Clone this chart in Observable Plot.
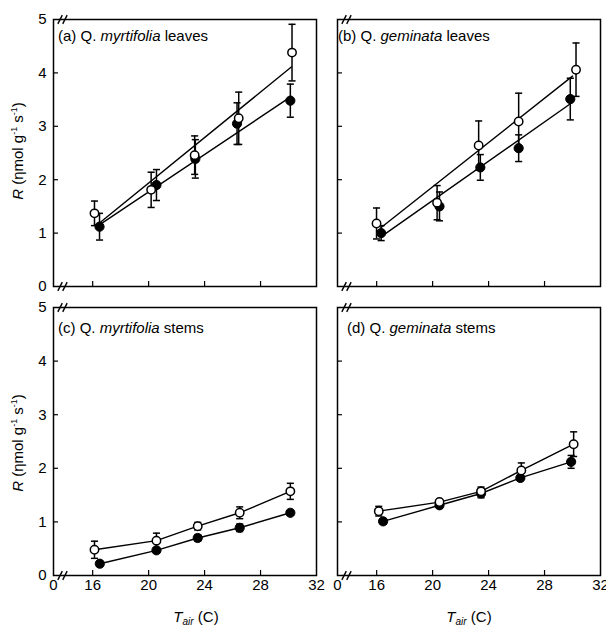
<!DOCTYPE html>
<html><head><meta charset="utf-8">
<script src="https://cdn.jsdelivr.net/npm/d3@7"></script>
<script src="https://cdn.jsdelivr.net/npm/@observablehq/plot@0.6"></script>
<style>
body{margin:0;background:#fff;font-family:"Liberation Sans",Arial,sans-serif;color:#000;}
#fig{position:relative;width:606px;height:628px;overflow:hidden;}
.p{position:absolute;}
.lbl{position:absolute;font-size:15px;white-space:nowrap;line-height:1;transform:translateY(-50%);}
.yt{position:absolute;font-size:15px;white-space:nowrap;line-height:1;transform:translate(-50%,-50%) rotate(-90deg);}
.xt{position:absolute;font-size:15px;white-space:nowrap;line-height:1;transform:translate(-50%,-50%);}
sup{font-size:9px;vertical-align:6px;line-height:0;}
sub{font-size:10px;vertical-align:-3px;line-height:0;font-style:italic;}
</style></head>
<body><div id="fig"></div>
<script>
// ---- axis ticks (13.2 is the broken-axis origin, labelled "0") ----
const xTicks = [13.2, 16, 20, 24, 28, 32];
const xTickLabels = ["0", "16", "20", "24", "28", "32"];
const yTicks = [0, 1, 2, 3, 4, 5];

// ---- (a) Q. myrtifolia leaves ----
const aOpenT = [16.13, 20.18, 23.29, 26.44, 30.25];
const aOpenR = [1.37, 1.81, 2.46, 3.15, 4.38];
const aOpenE = [0.23, 0.33, 0.36, 0.49, 0.53];
const aFillT = [16.49, 20.56, 23.34, 26.32, 30.13];
const aFillR = [1.12, 1.90, 2.39, 3.05, 3.48];
const aFillE = [0.25, 0.29, 0.36, 0.39, 0.31];
const aOpenFitT = [16.4, 30.2], aOpenFitR = [1.17, 4.11];
const aFillFitT = [16.4, 30.2], aFillFitR = [1.14, 3.56];

// ---- (b) Q. geminata leaves ----
const bOpenT = [15.99, 20.32, 23.29, 26.15, 30.25];
const bOpenR = [1.18, 1.57, 2.64, 3.09, 4.06];
const bOpenE = [0.29, 0.32, 0.46, 0.53, 0.50];
const bFillT = [16.32, 20.49, 23.41, 26.15, 29.84];
const bFillR = [1.00, 1.50, 2.23, 2.59, 3.51];
const bFillE = [0.14, 0.27, 0.24, 0.25, 0.39];
const bOpenFitT = [16.3, 30.0], bOpenFitR = [1.10, 3.94];
const bFillFitT = [16.3, 30.0], bFillFitR = [0.93, 3.45];

// ---- (c) Q. myrtifolia stems ----
const cOpenT = [16.13, 20.56, 23.51, 26.51, 30.13];
const cOpenR = [0.48, 0.65, 0.92, 1.17, 1.57];
const cOpenE = [0.16, 0.14, 0.07, 0.11, 0.15];
const cFillT = [16.51, 20.56, 23.51, 26.51, 30.13];
const cFillR = [0.22, 0.47, 0.70, 0.89, 1.17];
const cFillE = [0.05, 0.05, 0.06, 0.07, 0.04];

// ---- (d) Q. geminata stems ----
const dOpenT = [16.15, 20.49, 23.46, 26.34, 30.08];
const dOpenR = [1.20, 1.37, 1.57, 1.96, 2.45];
const dOpenE = [0.09, 0.05, 0.08, 0.14, 0.23];
const dFillT = [16.46, 20.49, 23.46, 26.27, 29.90];
const dFillR = [1.01, 1.31, 1.53, 1.82, 2.12];
const dFillE = [0.05, 0.05, 0.08, 0.05, 0.12];

function rows(ts, rs, es, series) {
  return ts.map((t, i) => ({T: t, R: rs[i], lo: rs[i] - (es ? es[i] : 0), hi: rs[i] + (es ? es[i] : 0), series}));
}

// error-bar cap: short horizontal stroke
const capSymbol = {draw(ctx, size) { const w = Math.sqrt(size) / 2; ctx.moveTo(-w, 0); ctx.lineTo(w, 0); }};
// axis-break mark: two slanted strokes
const breakSymbol = {draw(ctx, size) {
  const s = Math.sqrt(size) / 2;
  for (const o of [-0.55 * s, 0.55 * s]) { ctx.moveTo(o - 0.5 * s, s); ctx.lineTo(o + 0.5 * s, -s); }
}};

const panels = [
  {label: ["(a) ", "Q. ", "myrtifolia", " leaves"], lx: 58, ly: 35,
   open: rows(aOpenT, aOpenR, aOpenE, "open"), fill: rows(aFillT, aFillR, aFillE, "fill"),
   fits: [...rows(aOpenFitT, aOpenFitR, null, "open"), ...rows(aFillFitT, aFillFitR, null, "fill")],
   left: 0, top: 0, width: 326, height: 296, mL: 53, mR: 10, mT: 19, mB: 10, showY: true, showX: false},
  {label: ["(b) ", "Q. ", "geminata", " leaves"], lx: 338, ly: 35,
   open: rows(bOpenT, bOpenR, bOpenE, "open"), fill: rows(bFillT, bFillR, bFillE, "fill"),
   fits: [...rows(bOpenFitT, bOpenFitR, null, "open"), ...rows(bFillFitT, bFillFitR, null, "fill")],
   left: 326, top: 0, width: 280, height: 296, mL: 11, mR: 6, mT: 19, mB: 10, showY: false, showX: false},
  {label: ["(c) ", "Q. ", "myrtifolia", " stems"], lx: 58, ly: 327,
   open: rows(cOpenT, cOpenR, cOpenE, "open"), fill: rows(cFillT, cFillR, cFillE, "fill"), fits: null,
   left: 0, top: 296, width: 326, height: 332, mL: 53, mR: 10, mT: 11, mB: 53, showY: true, showX: true},
  {label: ["(d) ", "Q. ", "geminata", " stems"], lx: 347, ly: 327,
   open: rows(dOpenT, dOpenR, dOpenE, "open"), fill: rows(dFillT, dFillR, dFillE, "fill"), fits: null,
   left: 326, top: 296, width: 280, height: 332, mL: 11, mR: 6, mT: 11, mB: 53, showY: false, showX: true}
];

const fig = document.getElementById("fig");
const corners = [{T: xTicks[0], R: yTicks[0]}, {T: xTicks[0], R: yTicks[yTicks.length - 1]}];

for (const p of panels) {
  const pts = [...p.fill, ...p.open];
  const chart = Plot.plot({
    width: p.width, height: p.height,
    marginLeft: p.mL, marginRight: p.mR, marginTop: p.mT, marginBottom: p.mB,
    style: {fontFamily: "Liberation Sans, Arial, sans-serif", fontSize: "15px", background: "transparent", overflow: "visible", color: "black"},
    x: {domain: [xTicks[0], xTicks[xTicks.length - 1]]},
    y: {domain: [yTicks[0], yTicks[yTicks.length - 1]]},
    marks: [
      Plot.axisX({ticks: xTicks.slice(1, -1), tickSize: -5, fill: "none", label: null, strokeWidth: 1.2}),
      Plot.axisY({ticks: yTicks.slice(1, -1), tickSize: -5, fill: "none", label: null, strokeWidth: 1.2}),
      p.showX ? Plot.axisX({ticks: xTicks, tickSize: 0, tickPadding: 4, label: null, fontSize: 15,
        tickFormat: d => xTickLabels[xTicks.indexOf(d)]}) : null,
      p.showY ? Plot.axisY({ticks: yTicks, tickSize: 0, tickPadding: 7, label: null, fontSize: 15,
        tickFormat: d => String(d)}) : null,
      p.fits
        ? Plot.line(p.fits, {x: "T", y: "R", z: "series", stroke: "black", strokeWidth: 1.4})
        : Plot.line(pts, {x: "T", y: "R", z: "series", stroke: "black", strokeWidth: 1.4}),
      Plot.ruleX(pts, {x: "T", y1: "lo", y2: "hi", stroke: "black", strokeWidth: 1.5}),
      Plot.dot(pts, {x: "T", y: "hi", symbol: capSymbol, r: 4, stroke: "black", strokeWidth: 1.5}),
      Plot.dot(pts, {x: "T", y: "lo", symbol: capSymbol, r: 4, stroke: "black", strokeWidth: 1.5}),
      Plot.dot(p.fill, {x: "T", y: "R", r: 4.6, fill: "black", stroke: "black", strokeWidth: 1}),
      Plot.dot(p.open, {x: "T", y: "R", r: 4.2, fill: "white", stroke: "black", strokeWidth: 1.5}),
      Plot.frame({stroke: "black", strokeWidth: 1.5}),
      Plot.dot(corners, {x: "T", y: "R", dx: 9, symbol: breakSymbol, r: 5, stroke: "black", strokeWidth: 1.4})
    ]
  });
  chart.classList.add("p");
  chart.style.left = p.left + "px";
  chart.style.top = p.top + "px";
  fig.appendChild(chart);

  const lab = document.createElement("div");
  lab.className = "lbl";
  lab.style.left = p.lx + "px";
  lab.style.top = p.ly + "px";
  lab.innerHTML = `${p.label[0]}${p.label[1]}<i>${p.label[2]}</i>${p.label[3]}`;
  fig.appendChild(lab);
}

// axis titles
const yTitlePos = [[17, 151], [17, 443]];
for (const [x, y] of yTitlePos) {
  const d = document.createElement("div");
  d.className = "yt";
  d.style.left = x + "px"; d.style.top = y + "px";
  d.innerHTML = "<i>R</i> (ηmol g<sup>-1</sup> s<sup>-1</sup>)";
  fig.appendChild(d);
}
const xTitlePos = [[196, 616], [469, 616]];
for (const [x, y] of xTitlePos) {
  const d = document.createElement("div");
  d.className = "xt";
  d.style.left = x + "px"; d.style.top = y + "px";
  d.innerHTML = "<i>T</i><sub>air</sub> (C)";
  fig.appendChild(d);
}
</script>
</body></html>
